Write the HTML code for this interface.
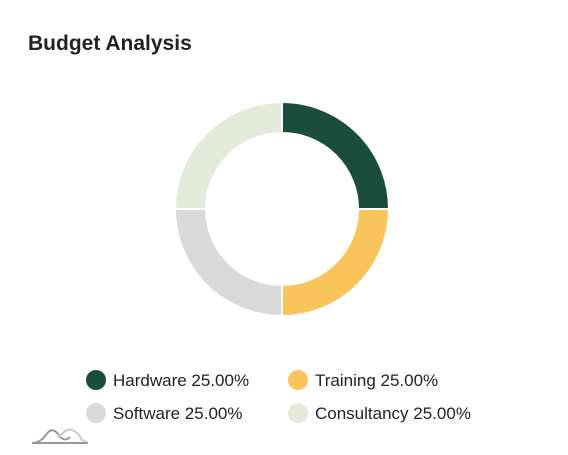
<!DOCTYPE html>
<html><head><meta charset="utf-8"><style>
html,body{margin:0;padding:0;background:#fff;width:568px;height:455px;overflow:hidden;font-family:"Liberation Sans",sans-serif}
.title{position:absolute;left:28px;top:32px;font-size:21px;font-weight:bold;color:#222}
</style></head><body>
<div class="title">Budget Analysis</div>
<svg id="chart" width="568" height="455" style="position:absolute;left:0;top:0">
<g id="slices"></g><g id="legend"></g>
<g fill="none" stroke-width="2">
<path d="M32 443 Q40 443 46 435 Q52 426 58 434 Q64 443 70 437" stroke="#999"/>
<path d="M58 438 Q66 428 72 430 Q78 432 82 440 L88 443" stroke="#ccc"/>
<line x1="32" y1="443" x2="88" y2="443" stroke="#999"/>
</g>
</svg>
<script>
const categories=["Hardware","Training","Software","Consultancy"];
const values=[25,25,25,25];
const colors=["#1a4d3c","#f9c45c","#d9d9d9","#e3ead9"];
const NS="http://www.w3.org/2000/svg";
const cx=282,cy=209,R=107,r=76;
const total=values.reduce((a,b)=>a+b,0);
const sg=document.getElementById('slices');
let a0=0;
function pt(a,rad){return [cx+rad*Math.sin(a),cy-rad*Math.cos(a)];}
values.forEach((v,i)=>{
  const a1=a0+v/total*2*Math.PI;
  const large=(a1-a0)>Math.PI?1:0;
  const [x1,y1]=pt(a0,R),[x2,y2]=pt(a1,R),[x3,y3]=pt(a1,r),[x4,y4]=pt(a0,r);
  const p=document.createElementNS(NS,'path');
  p.setAttribute('d',`M${x1} ${y1}A${R} ${R} 0 ${large} 1 ${x2} ${y2}L${x3} ${y3}A${r} ${r} 0 ${large} 0 ${x4} ${y4}Z`);
  p.setAttribute('fill',colors[i]);p.setAttribute('stroke','#fff');p.setAttribute('stroke-width','2');
  
  
  sg.appendChild(p);
  a0=a1;
});
const lg=document.getElementById('legend');
categories.forEach((c,i)=>{
  const x=i%2===0?96:298, y=i<2?380:413;
  const g=document.createElementNS(NS,'g');
  
  
  const ci=document.createElementNS(NS,'circle');
  ci.setAttribute('cx',x);ci.setAttribute('cy',y);ci.setAttribute('r',10);ci.setAttribute('fill',colors[i]);
  const t=document.createElementNS(NS,'text');
  t.setAttribute('x',x+17);t.setAttribute('y',y+6);t.setAttribute('font-size','17');t.setAttribute('fill','#222');
  t.setAttribute('font-family','"Liberation Sans",sans-serif');
  t.textContent=c+' '+(values[i]/total*100).toFixed(2)+'%';
  g.appendChild(ci);g.appendChild(t);lg.appendChild(g);
});
</script>
</body></html>
